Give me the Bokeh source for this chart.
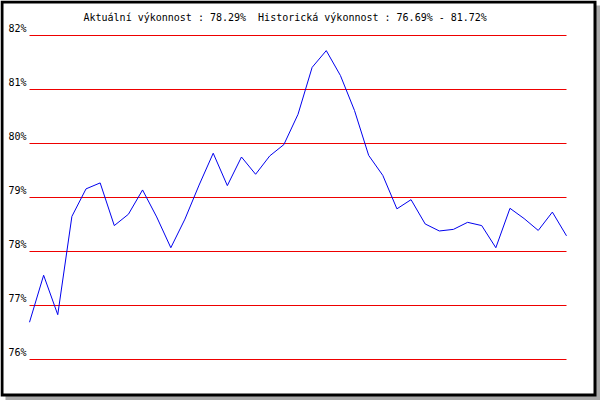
from bokeh.plotting import figure
from bokeh.models import Range1d, BoxAnnotation, Label, ColumnDataSource
from bokeh.core.properties import value
from bokeh.embed import file_html
from bokeh.resources import INLINE

# ---- data ----
values = [76.69, 77.56, 76.83, 78.65, 79.16, 79.27, 78.48, 78.69, 79.14, 78.64,
          78.07, 78.60, 79.23, 79.82, 79.22, 79.75, 79.43, 79.77, 79.98, 80.54,
          81.41, 81.72, 81.26, 80.61, 79.78, 79.41, 78.79, 78.96, 78.51, 78.38,
          78.41, 78.54, 78.48, 78.07, 78.80, 78.61, 78.39, 78.73, 78.29]
ytick_values = [76, 77, 78, 79, 80, 81, 82]
ytick_labels = ["76%", "77%", "78%", "79%", "80%", "81%", "82%"]
title_text = "Aktuální výkonnost : 78.29%\u00a0 Historická výkonnost : 76.69% - 81.72%"

xs = list(range(len(values)))
n = len(values)
FONT = "DejaVu Sans Mono"

# plot area in pixels: x 29..566, y (82%) 35 .. (76%) 359
px_per_x = (566 - 29) / (n - 1)
px_per_y = (359 - 35) / (ytick_values[-1] - ytick_values[0])
x_start = -29 / px_per_x
x_end = (n - 1) + (600 - 566) / px_per_x
y_end = ytick_values[-1] + 35 / px_per_y
y_start = ytick_values[-1] - (400 - 35) / px_per_y

p = figure(width=600, height=400, output_backend="svg", toolbar_location=None,
           x_axis_location=None, y_axis_location=None,
           x_range=Range1d(x_start, x_end), y_range=Range1d(y_start, y_end),
           min_border=0, background_fill_color="white", border_fill_color="white",
           outline_line_color=None)
p.center = []

# frame with shadow (screen units from bottom-left)
p.add_layout(BoxAnnotation(left=5, right=600, bottom=0, top=395,
                           left_units="screen", right_units="screen",
                           top_units="screen", bottom_units="screen",
                           fill_color="#aaaaaa", fill_alpha=1, line_color=None,
                           level="image"))
p.add_layout(BoxAnnotation(left=0, right=596, bottom=4, top=400,
                           left_units="screen", right_units="screen",
                           top_units="screen", bottom_units="screen",
                           fill_color="black", fill_alpha=1, line_color=None,
                           level="image"))
p.add_layout(BoxAnnotation(left=3, right=593, bottom=7, top=397,
                           left_units="screen", right_units="screen",
                           top_units="screen", bottom_units="screen",
                           fill_color="white", fill_alpha=1, line_color=None,
                           level="image"))

# horizontal grid lines
grid_src = ColumnDataSource(dict(x0=[0] * len(ytick_values), x1=[n - 1] * len(ytick_values),
                                 y=ytick_values, text=ytick_labels))
p.segment(x0="x0", y0="y", x1="x1", y1="y", source=grid_src,
          line_color="#ee0000", line_width=1)

# y labels
p.text(x="x0", y="y", text="text", source=grid_src, x_offset=-3, y_offset=-2,
       text_align="right", text_baseline="bottom",
       text_font=value(FONT), text_font_size="10px", text_color="black")

p.line(xs, values, line_color="#0000ee", line_width=1)

p.add_layout(Label(x=83, y=383, x_units="screen", y_units="screen",
                   text=title_text, text_align="left", text_baseline="alphabetic",
                   text_font=FONT, text_font_size="10px", text_color="black"))

open("out.html", "w").write(file_html(p, INLINE))
